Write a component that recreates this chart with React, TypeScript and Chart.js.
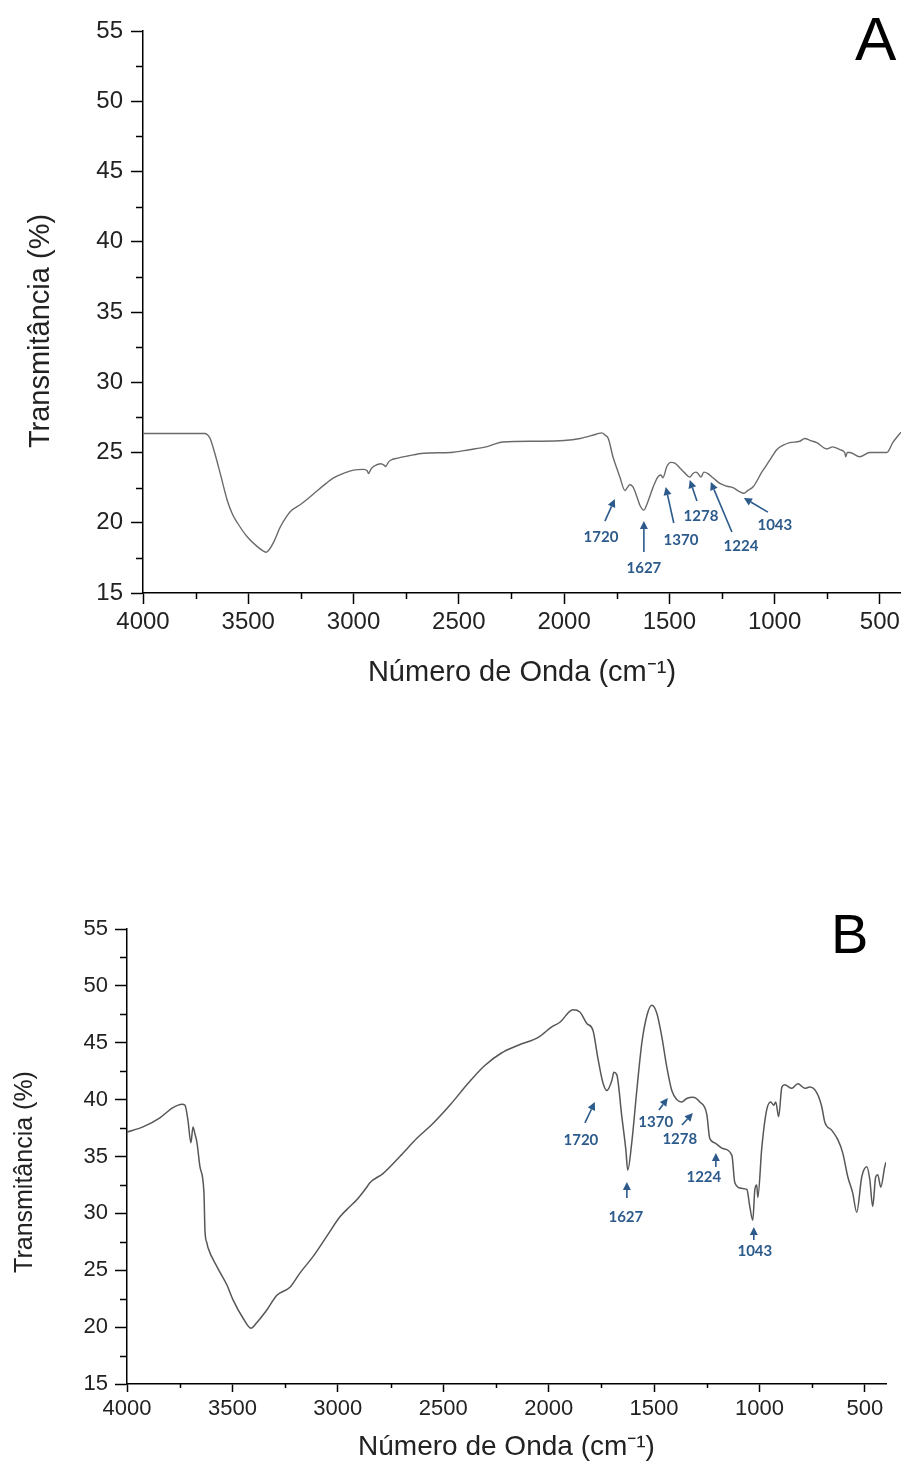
import { useEffect, useRef } from 'react';
import { Chart, registerables } from 'chart.js';

Chart.register(...registerables);

// ---------- axis ticks ----------
const xMajorTicks = [4000, 3500, 3000, 2500, 2000, 1500, 1000, 500];
const xMinorTicks = [3750, 3250, 2750, 2250, 1750, 1250, 750];
const yMajorTicks = [15, 20, 25, 30, 35, 40, 45, 50, 55];
const yMinorTicks = [17.5, 22.5, 27.5, 32.5, 37.5, 42.5, 47.5, 52.5];

// ---------- spectrum A ----------
const aWavenumber = [
  4000, 3900, 3800, 3705, 3690, 3681, 3660, 3633, 3600, 3575, 3552, 3505, 3457, 3430, 3415, 3400,
  3380, 3348, 3320, 3300, 3252, 3210, 3171, 3130, 3095, 3050, 3000, 2952, 2935, 2929, 2918, 2905,
  2871, 2855, 2848, 2835, 2824, 2790, 2743, 2667, 2538, 2450, 2371, 2290, 2133, 2000, 1924, 1848,
  1821, 1806, 1790, 1768, 1750, 1735, 1711, 1700, 1688, 1673, 1654, 1640, 1621, 1602, 1578, 1555,
  1540, 1531, 1512, 1493, 1474, 1450, 1427, 1403, 1388, 1374, 1364, 1350, 1336, 1317, 1293, 1260,
  1227, 1198, 1165, 1146, 1127, 1100, 1061, 1023, 990, 961, 928, 880, 857, 830, 800, 752,
  724, 690, 667, 662, 655, 643, 596, 548, 467, 439, 400,
];
const aTransmittance = [
  26.35, 26.35, 26.35, 26.35, 26.2, 26.0, 25.0, 23.5, 21.6, 20.6, 20.0, 19.0, 18.3, 18.0, 17.9, 18.1,
  18.6, 19.7, 20.4, 20.8, 21.3, 21.8, 22.3, 22.8, 23.2, 23.5, 23.75, 23.8, 23.7, 23.5, 23.8, 24.0,
  24.2, 24.1, 24.0, 24.3, 24.45, 24.6, 24.75, 24.95, 25.0, 25.2, 25.4, 25.75, 25.8, 25.85, 26.0, 26.3,
  26.4, 26.25, 26.0, 24.7, 23.9, 23.25, 22.3, 22.5, 22.7, 22.55, 21.85, 21.25, 20.9, 21.5, 22.5, 23.25,
  23.4, 23.2, 24.0, 24.3, 24.25, 23.9, 23.55, 23.25, 23.5, 23.6, 23.5, 23.25, 23.6, 23.5, 23.2, 22.8,
  22.6, 22.5, 22.2, 22.1, 22.3, 22.6, 23.6, 24.45, 25.2, 25.5, 25.7, 25.8, 26.0, 25.85, 25.7, 25.25,
  25.4, 25.2, 25.0, 24.7, 25.0, 25.0, 24.7, 25.0, 25.0, 25.7, 26.45,
];

// ---------- spectrum B ----------
const bWavenumber = [
  4000, 3924, 3844, 3782, 3739, 3725, 3711, 3697, 3687, 3678, 3668, 3654, 3635, 3630, 3621, 3616,
  3573, 3526, 3497, 3450, 3412, 3384, 3337, 3289, 3227, 3180, 3118, 3052, 2990, 2943, 2910, 2863,
  2848, 2786, 2706, 2625, 2549, 2469, 2379, 2303, 2224, 2142, 2047, 1985, 1947, 1885, 1852, 1819,
  1790, 1767, 1743, 1724, 1700, 1691, 1677, 1653, 1634, 1625, 1606, 1582, 1558, 1534, 1511, 1487,
  1463, 1440, 1416, 1392, 1369, 1345, 1317, 1283, 1250, 1236, 1212, 1174, 1131, 1117, 1084, 1060,
  1046, 1032, 1022, 1013, 1008, 989, 966, 947, 932, 923, 909, 894, 880, 847, 818, 785,
  762, 728, 705, 690, 657, 629, 605, 581, 558, 539, 515, 491, 477, 463, 449, 439,
  425, 406, 400,
];
const bTransmittance = [
  37.15, 37.6, 38.4, 39.3, 39.6, 39.5, 38.2, 36.2, 37.6, 37.0, 36.2, 34.1, 31.8, 28.4, 27.4, 27.0,
  25.3, 23.7, 22.4, 20.8, 19.9, 20.4, 21.5, 22.8, 23.5, 24.75, 26.2, 28.0, 29.7, 30.6, 31.2, 32.3,
  32.7, 33.5, 35.0, 36.6, 37.9, 39.5, 41.5, 43.0, 44.1, 44.8, 45.5, 46.4, 46.8, 47.9, 47.7, 46.7,
  46.1, 43.7, 41.5, 40.8, 41.7, 42.4, 42.2, 38.5, 35.6, 33.8, 36.2, 40.8, 45.0, 47.4, 48.3, 47.6,
  45.5, 42.9, 40.8, 40.0, 39.8, 40.1, 40.2, 39.8, 38.7, 36.6, 36.2, 35.7, 35.1, 32.7, 32.2, 32.1,
  30.6, 29.4, 32.1, 32.5, 31.4, 35.8, 39.1, 39.8, 39.5, 39.8, 38.5, 41.1, 41.3, 41.0, 41.4, 41.0,
  41.1, 40.6, 39.4, 38.0, 37.3, 36.5, 35.3, 33.2, 31.8, 30.1, 33.2, 34.1, 33.0, 30.6, 33.2, 33.4,
  32.3, 34.1, 34.5,
];

// ---------- peak annotations (data coordinates) ----------
const peakLabels = ['1720', '1627', '1370', '1278', '1224', '1043'];

const aLabelX = [1825, 1621, 1445, 1350, 1160, 999];
const aLabelY = [18.99, 16.78, 18.77, 20.48, 18.35, 19.84];
const aTailX = [1806, 1621, 1479, 1369, 1203, 1032];
const aTailY = [20.12, 17.92, 19.98, 21.55, 19.34, 20.76];
const aHeadX = [1759, 1621, 1517, 1403, 1303, 1146];
const aHeadY = [21.69, 20.12, 22.54, 23.04, 22.9, 21.76];

const bLabelX = [1847, 1634, 1492, 1378, 1264, 1022];
const bLabelY = [36.45, 29.68, 38.03, 36.54, 33.2, 26.69];
const bTailX = [1828, 1629, 1477, 1368, 1207, 1027];
const bTailY = [37.95, 31.35, 39.09, 37.77, 34.08, 27.66];
const bHeadX = [1781, 1629, 1435, 1316, 1207, 1027];
const bHeadY = [39.79, 32.76, 40.14, 38.82, 35.31, 28.8];

const FONT = "'Liberation Sans', Arial, sans-serif";
const BLUE = '#2c5a8b';

type PanelCfg = {
  width: number;
  height: number;
  wn: number[];
  tr: number[];
  lineColor: string;
  lineWidth: number;
  yAxisWidth: number;
  xAxisHeight: number;
  padTop: number;
  padRight: number;
  xTickLen: number;
  xMinorLen: number;
  yTickLen: number;
  yMinorLen: number;
  xTickFont: number;
  yTickFont: number;
  xTickPad: number;
  yTickPad: number;
  xTitleFont: number;
  xTitlePad: number;
  yTitleFont: number;
  yTitleX: number;
  yTitleDy: number;
  letter: string;
  letterFont: number;
  letterX: number;
  letterY: number;
  labelX: number[];
  labelY: number[];
  tailX: number[];
  tailY: number[];
  headX: number[];
  headY: number[];
};

function makeDecor(cfg: PanelCfg) {
  return {
    id: 'decor',
    afterDraw(chart: any) {
      const { ctx, chartArea } = chart;
      const xs = chart.scales.x;
      const ys = chart.scales.y;
      ctx.save();
      // minor ticks
      ctx.strokeStyle = '#000';
      ctx.lineWidth = 1.5;
      ctx.beginPath();
      xMinorTicks.forEach((v) => {
        const px = Math.round(xs.getPixelForValue(v)) + 0.5;
        ctx.moveTo(px, chartArea.bottom);
        ctx.lineTo(px, chartArea.bottom + cfg.xMinorLen);
      });
      yMinorTicks.forEach((v) => {
        const py = Math.round(ys.getPixelForValue(v)) + 0.5;
        ctx.moveTo(chartArea.left - cfg.yMinorLen, py);
        ctx.lineTo(chartArea.left, py);
      });
      ctx.stroke();

      // y axis title
      ctx.save();
      ctx.translate(cfg.yTitleX, (chartArea.top + chartArea.bottom) / 2 + cfg.yTitleDy);
      ctx.rotate(-Math.PI / 2);
      ctx.fillStyle = '#222';
      ctx.font = `${cfg.yTitleFont}px ${FONT}`;
      ctx.textAlign = 'center';
      ctx.textBaseline = 'middle';
      ctx.fillText('Transmitância (%)', 0, 0);
      ctx.restore();

      // panel letter
      ctx.fillStyle = '#000';
      ctx.font = `${cfg.letterFont}px ${FONT}`;
      ctx.textAlign = 'left';
      ctx.textBaseline = 'alphabetic';
      ctx.fillText(cfg.letter, cfg.letterX, cfg.letterY);

      // peak arrows + labels
      ctx.strokeStyle = BLUE;
      ctx.fillStyle = BLUE;
      ctx.lineWidth = 1.6;
      peakLabels.forEach((lab, i) => {
        const tx = xs.getPixelForValue(cfg.tailX[i]);
        const ty = ys.getPixelForValue(cfg.tailY[i]);
        const hx = xs.getPixelForValue(cfg.headX[i]);
        const hy = ys.getPixelForValue(cfg.headY[i]);
        const ang = Math.atan2(hy - ty, hx - tx);
        const hl = 8;
        const hw = 4;
        const bx = hx - hl * Math.cos(ang);
        const by = hy - hl * Math.sin(ang);
        ctx.beginPath();
        ctx.moveTo(tx, ty);
        ctx.lineTo(bx, by);
        ctx.stroke();
        ctx.beginPath();
        ctx.moveTo(hx, hy);
        ctx.lineTo(bx + hw * Math.sin(ang), by - hw * Math.cos(ang));
        ctx.lineTo(bx - hw * Math.sin(ang), by + hw * Math.cos(ang));
        ctx.closePath();
        ctx.fill();

        ctx.font = `bold 15px Lato, 'Open Sans', sans-serif`;
        ctx.textAlign = 'center';
        ctx.textBaseline = 'middle';
        ctx.fillText(lab, xs.getPixelForValue(cfg.labelX[i]), ys.getPixelForValue(cfg.labelY[i]));
      });
      ctx.restore();
    },
  };
}

function Panel({ cfg, top }: { cfg: PanelCfg; top: number }) {
  const ref = useRef<HTMLCanvasElement | null>(null);
  useEffect(() => {
    if (!ref.current) return;
    const chart = new Chart(ref.current, {
      type: 'line',
      data: {
        datasets: [
          {
            data: cfg.wn.map((x, i) => ({ x, y: cfg.tr[i] })),
            borderColor: cfg.lineColor,
            borderWidth: cfg.lineWidth,
            pointRadius: 0,
            cubicInterpolationMode: 'monotone',
            fill: false,
          },
        ],
      },
      options: {
        responsive: false,
        animation: false,
        events: [],
        layout: { padding: { top: cfg.padTop, right: cfg.padRight, left: 0, bottom: 0 } },
        plugins: { legend: { display: false }, tooltip: { enabled: false }, title: { display: false } },
        scales: {
          x: {
            type: 'linear',
            reverse: true,
            min: 400,
            max: 4000,
            afterBuildTicks: (s: any) => {
              s.ticks = xMajorTicks.map((v) => ({ value: v }));
            },
            afterFit: (s: any) => {
              s.height = cfg.xAxisHeight;
            },
            grid: {
              drawOnChartArea: false,
              drawTicks: true,
              tickLength: cfg.xTickLen,
              tickWidth: 1.5,
              tickColor: '#000',
              color: '#000',
            },
            border: { display: true, color: '#000', width: 1.5 },
            ticks: {
              color: '#222',
              font: { family: FONT, size: cfg.xTickFont },
              padding: cfg.xTickPad,
              maxRotation: 0,
              autoSkip: false,
              callback: (v: any) => String(v),
            },
            title: {
              display: true,
              text: 'Número de Onda (cm⁻¹)',
              color: '#222',
              font: { family: FONT, size: cfg.xTitleFont },
              padding: { top: 0, bottom: cfg.xTitlePad },
            },
          },
          y: {
            type: 'linear',
            min: 15,
            max: 55,
            afterBuildTicks: (s: any) => {
              s.ticks = yMajorTicks.map((v) => ({ value: v }));
            },
            afterFit: (s: any) => {
              s.width = cfg.yAxisWidth;
            },
            grid: {
              drawOnChartArea: false,
              drawTicks: true,
              tickLength: cfg.yTickLen,
              tickWidth: 1.5,
              tickColor: '#000',
              color: '#000',
            },
            border: { display: true, color: '#000', width: 1.5 },
            ticks: {
              color: '#222',
              font: { family: FONT, size: cfg.yTickFont },
              padding: cfg.yTickPad,
              autoSkip: false,
              callback: (v: any) => String(v),
            },
          },
        },
      },
      plugins: [makeDecor(cfg)],
    } as any);
    return () => chart.destroy();
  }, [cfg]);
  return (
    <canvas
      ref={ref}
      width={cfg.width}
      height={cfg.height}
      style={{ position: 'absolute', left: 0, top, display: 'block' }}
    />
  );
}

const panelA: PanelCfg = {
  width: 904,
  height: 700,
  wn: aWavenumber,
  tr: aTransmittance,
  lineColor: '#6a6a6a',
  lineWidth: 1.4,
  yAxisWidth: 143,
  xAxisHeight: 107,
  padTop: 31,
  padRight: 3,
  xTickLen: 11,
  xMinorLen: 6,
  yTickLen: 12,
  yMinorLen: 7,
  xTickFont: 24,
  yTickFont: 24,
  xTickPad: 4,
  yTickPad: 8,
  xTitleFont: 29,
  xTitlePad: 10,
  yTitleFont: 29,
  yTitleX: 41,
  yTitleDy: 19,
  letter: 'A',
  letterFont: 62,
  letterX: 855,
  letterY: 60,
  labelX: aLabelX,
  labelY: aLabelY,
  tailX: aTailX,
  tailY: aTailY,
  headX: aHeadX,
  headY: aHeadY,
};

const panelB: PanelCfg = {
  width: 904,
  height: 585,
  wn: bWavenumber,
  tr: bTransmittance,
  lineColor: '#575757',
  lineWidth: 1.5,
  yAxisWidth: 127,
  xAxisHeight: 81,
  padTop: 49,
  padRight: 18,
  xTickLen: 8,
  xMinorLen: 4,
  yTickLen: 12,
  yMinorLen: 7,
  xTickFont: 22,
  yTickFont: 22,
  xTickPad: 4,
  yTickPad: 7,
  xTitleFont: 28,
  xTitlePad: 1,
  yTitleFont: 25,
  yTitleX: 25,
  yTitleDy: 15.5,
  letter: 'B',
  letterFont: 56,
  letterX: 831,
  letterY: 73,
  labelX: bLabelX,
  labelY: bLabelY,
  tailX: bTailX,
  tailY: bTailY,
  headX: bHeadX,
  headY: bHeadY,
};

export default function App() {
  return (
    <div
      style={{
        position: 'absolute',
        left: 0,
        top: 0,
        width: 904,
        height: 1465,
        background: '#fff',
        overflow: 'hidden',
      }}
    >
      <Panel cfg={panelA} top={0} />
      <Panel cfg={panelB} top={880} />
    </div>
  );
}
